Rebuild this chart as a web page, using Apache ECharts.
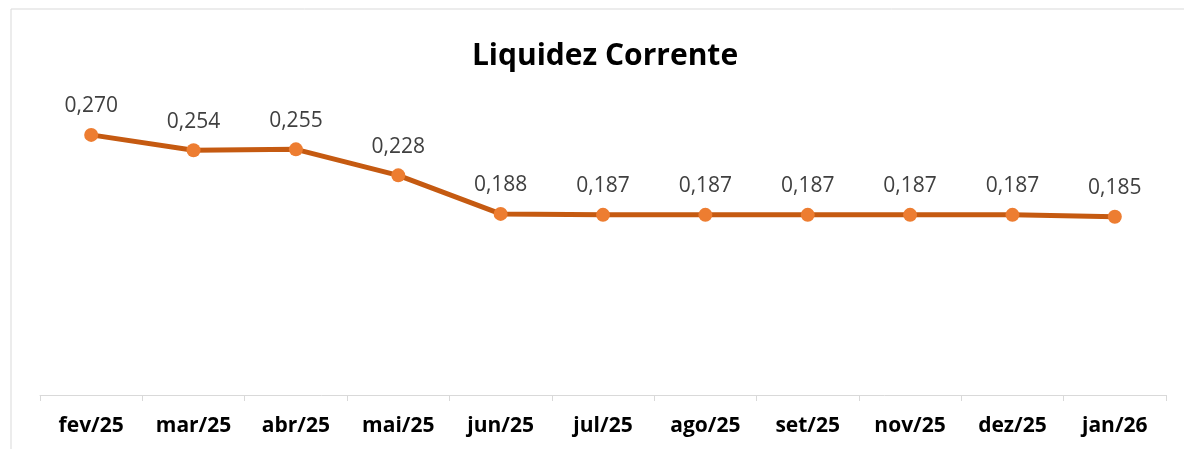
<!DOCTYPE html>
<html>
<head>
<meta charset="utf-8">
<script src="https://cdn.jsdelivr.net/npm/echarts@6/dist/echarts.min.js"></script>
<style>
html,body{margin:0;padding:0;background:#fff;}
#chart{width:1184px;height:449px;}
</style>
</head>
<body>
<div id="chart"></div>
<script>
var meses = ['fev/25','mar/25','abr/25','mai/25','jun/25','jul/25','ago/25','set/25','nov/25','dez/25','jan/26'];
var liquidez = [0.270,0.254,0.255,0.228,0.188,0.187,0.187,0.187,0.187,0.187,0.185];

var myChart = echarts.init(document.getElementById('chart'));

// formato brasileiro 0,000
function fmt(v){
	return v.toFixed(3).replace('.',',');
}

var option = {
	animation: false,
	backgroundColor: '#fff',
	title: {
		text: 'Liquidez Corrente',
		left: 600,
		textAlign: 'center',
		top: 36,
		textStyle: {
			fontFamily: 'Open Sans',
			fontWeight: 'bold',
			fontSize: 30,
			color: '#000'
		}
	},
	graphic: [{
		type: 'rect',
		shape: {x: 11, y: 9, width: 1200, height: 500},
		style: {fill: 'none', stroke: '#d9d9d9', lineWidth: 1}
	}],
	grid: {left: 40, right: 18, top: 106, bottom: 54},
	xAxis: {
		type: 'category',
		data: meses,
		boundaryGap: true,
		axisLine: {lineStyle: {color: '#d9d9d9', width: 1}},
		axisTick: {show: true, length: 6, lineStyle: {color: '#d9d9d9'}},
		axisLabel: {
			margin: 21,
			fontFamily: 'Open Sans',
			fontWeight: 'bold',
			fontSize: 21,
			color: '#000'
		}
	},
	yAxis: {
		type: 'value',
		min: 0,
		max: 0.3,
		show: false,
		splitLine: {show: false}
	},
	series: [{
		type: 'line',
		data: liquidez,
		symbol: 'circle',
		symbolSize: 14,
		lineStyle: {color: '#c55a11', width: 5},
		itemStyle: {color: '#ed7d31'},
		label: {
			show: true,
			position: 'top',
			distance: 11,
			fontFamily: 'Open Sans',
			fontSize: 21,
			color: '#404040',
			formatter: function(p){ return fmt(p.value); }
		}
	}]
};

myChart.setOption(option);
</script>
</body>
</html>
